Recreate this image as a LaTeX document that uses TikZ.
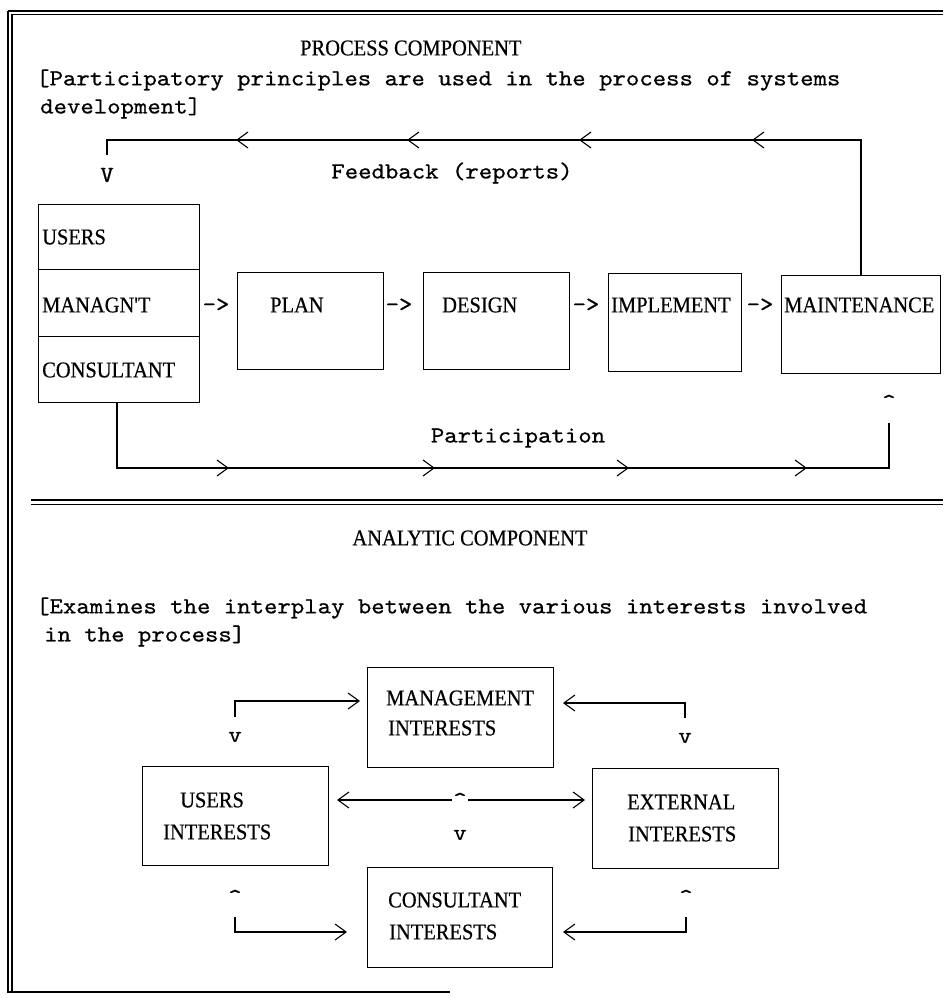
\documentclass[tikz,border=0pt]{standalone}
\usepackage{fontspec}
\newfontfamily\typew[FakeStretch=1.11,FakeBold=0.7]{lmmono10-regular.otf}
\newfontfamily\capsf[FakeStretch=0.91,FakeBold=0.5]{Liberation Serif}
\usetikzlibrary{arrows.meta}
\tikzset{
  chev/.tip={Straight Barb[length=11pt,width=16pt,line width=1.1pt]},
  chevL/.pic={\draw[line width=1.1pt] (11,-8) -- (0,0) -- (11,8);},
  chevR/.pic={\draw[line width=1.1pt] (-11,-8) -- (0,0) -- (-11,8);}
}
\begin{document}
\begin{tikzpicture}[x=1pt,y=-1pt,
  boxn/.style={draw, line width=1.1pt, inner sep=0pt, anchor=north west},
  capt/.style={font=\capsf\fontsize{22.5}{26}\selectfont, inner sep=0pt},
  mono/.style={font=\typew\fontsize{23}{26}\selectfont, inner sep=0pt},
  conn/.style={line width=1.1pt},
  frameline/.style={line width=1.4pt}]
\useasboundingbox (0,0) rectangle (943,998);
% frame
\draw[frameline] (8,11) -- (943,11);
\draw[frameline] (12,14.5) -- (943,14.5);
\draw[frameline] (8,11) -- (8,993);
\draw[frameline] (12,14.5) -- (12,993);
\draw[frameline] (8,992) -- (450,992);
\draw[frameline] (31,500) -- (943,500);
\draw[frameline] (31,504.5) -- (943,504.5);

% ---------- process component ----------
\node[capt, anchor=west] (ptitle) at (300,48) {PROCESS COMPONENT};
\node[mono, anchor=west] (pl1) at (36,80) {[Participatory principles are used in the process of systems};
\node[mono, anchor=west] (pl2) at (40,108) {development]};

\node[boxn, minimum width=161pt, minimum height=65pt] (cellU) at (38,204) {};
\node[boxn, minimum width=161pt, minimum height=67pt] (cellM) at (38,269) {};
\node[boxn, minimum width=161pt, minimum height=66pt] (cellC) at (38,336) {};
\node[capt, anchor=west] (tU) at (42,237) {USERS};
\node[capt, anchor=west] (tM) at (42,305) {MANAGN'T};
\node[capt, anchor=west] (tC) at (42,370) {CONSULTANT};

\node[boxn, minimum width=146pt, minimum height=97pt] (plan) at (237,272) {};
\node[boxn, minimum width=146pt, minimum height=97pt] (design) at (423,272) {};
\node[boxn, minimum width=133pt, minimum height=98pt] (impl) at (608,273) {};
\node[boxn, minimum width=159pt, minimum height=98pt] (maint) at (781,275) {};
\node[capt, anchor=west] (tplan) at (270,305) {PLAN};
\node[capt, anchor=west] (tdesign) at (442,305) {DESIGN};
\node[capt, anchor=west] (timpl) at (611,305) {IMPLEMENT};
\node[capt, anchor=west] (tmaint) at (784,305) {MAINTENANCE};

\node[mono] (a1) at (216,305) {->};
\node[mono] (a2) at (399,305) {->};
\node[mono] (a3) at (586,305) {->};
\node[mono] (a4) at (760,305) {->};

% feedback
\coordinate (fbR) at (861,140);
\coordinate (fbL) at (107,155);
\node[mono] (V1) at (107,175) {V};
\draw[conn] (maint.north -| fbR) -- (fbR) -- (fbL |- fbR) -- (fbL);
\foreach \x in {237,408,580,753} \pic at (\x,140) {chevL};
\node[mono] (fbtext) at (452,173) {Feedback (reports)};

% participation
\coordinate (pL) at (117,468);
\coordinate (pR) at (889,468);
\coordinate (pRt) at (889,423);
\draw[conn] (cellC.south -| pL) -- (pL) -- (pR) -- (pRt);
\foreach \x in {228,434,628,806} \pic at (\x,468) {chevR};
\node[mono] (car1) at (889,402) {\textasciicircum};
\node[mono] (ptext) at (518,438) {Participation};

% ---------- analytic component ----------
\node[capt] (atitle) at (470,538) {ANALYTIC COMPONENT};
\node[mono, anchor=west] (al1) at (36,608) {[Examines the interplay between the various interests involved};
\node[mono, anchor=west] (al2) at (44,636) {in the process]};

\node[boxn, minimum width=186pt, minimum height=100pt] (mgmt) at (367,667) {};
\node[boxn, minimum width=186pt, minimum height=99pt] (users) at (142,766) {};
\node[boxn, minimum width=186pt, minimum height=100pt] (ext) at (592,768) {};
\node[boxn, minimum width=185pt, minimum height=100pt] (cons) at (367,867) {};

\node[capt, anchor=west] at (386,698) {MANAGEMENT};
\node[capt, anchor=west] at (388,728) {INTERESTS};
\node[capt, anchor=west] at (180,800) {USERS};
\node[capt, anchor=west] at (163,832) {INTERESTS};
\node[capt, anchor=west] at (627,802) {EXTERNAL};
\node[capt, anchor=west] at (628,834) {INTERESTS};
\node[capt, anchor=west] at (388,900) {CONSULTANT};
\node[capt, anchor=west] at (389,932) {INTERESTS};

% users <-> management
\node[mono] (vUL) at (235,737) {v};
\coordinate (cUL) at (235,701);
\draw[conn, -chev] (235,717) -- (cUL) -- (360,701);
% management <-> external
\node[mono] (vUR) at (685,738) {v};
\coordinate (cUR) at (685,703);
\draw[conn, -chev] (685,718) -- (cUR) -- (563,703);
% users <-> external
\draw[conn, chev-chev] (337,800) -- (585,800);
\node[mono, fill=white, inner sep=1pt] (carM) at (460,800) {\textasciicircum};
\node[mono] (vM) at (460,835) {v};
% users <-> consultant
\node[mono] (cLL) at (235,897) {\textasciicircum};
\coordinate (dLL) at (235,932);
\draw[conn, -chev] (235,917) -- (dLL) -- (347,932);
% external <-> consultant
\node[mono] (cLR) at (686,897) {\textasciicircum};
\coordinate (dLR) at (686,932);
\draw[conn, -chev] (686,917) -- (dLR) -- (563,932);
\end{tikzpicture}
\end{document}
